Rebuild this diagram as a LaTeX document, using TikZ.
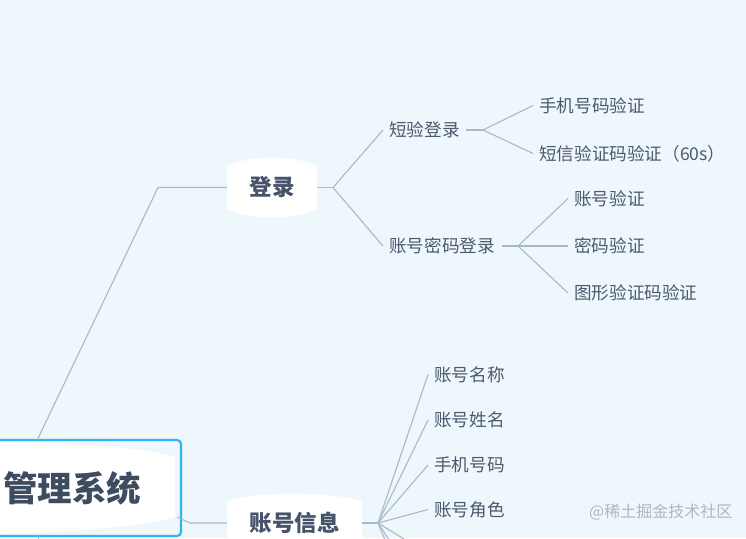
\documentclass[tikz,border=0pt]{standalone}
\usepackage{fontspec}
\setmainfont{Noto Sans CJK SC}
\definecolor{bg}{HTML}{EEF7FB}
\definecolor{linec}{HTML}{AAB8C8}
\definecolor{txt}{HTML}{4D596D}
\definecolor{maintxt}{HTML}{46536A}
\definecolor{roottxt}{HTML}{3E4B60}
\definecolor{rootb}{HTML}{33B4F2}
\definecolor{wm}{HTML}{B2B6BA}
\begin{document}
\begin{tikzpicture}[x=1pt,y=-1pt,
  conn/.style={draw=linec, line width=1.1pt},
  leaf/.style={anchor=west, inner xsep=6pt, inner ysep=0pt, text=txt, font=\fontsize{17.6}{17.6}\selectfont},
  mainnode/.style={inner sep=0pt, text=maintxt, font=\bfseries\fontsize{22.5}{22.5}\selectfont},
]
\useasboundingbox (0,0) rectangle (746,538);
\fill[bg] (0,0) rectangle (746,538);
\begin{scope}
\clip (0,0) rectangle (746,538);
% root
\draw[draw=rootb, line width=2.2pt, fill=bg, rounded corners=4pt] (-20,440) rectangle (181,536);
\fill[white] (-80,441.5) .. controls (60,441.5) and (140,446) .. (175,457) -- (175,517) .. controls (140,528) and (60,534.5) .. (-80,534.5) -- cycle;
\node[anchor=west, inner sep=0pt, text=roottxt, font=\bfseries\fontsize{34.5}{34.5}\selectfont] (root) at (3,488) {管理系统};
\coordinate (rootT) at (37,440.5);
\coordinate (rootR) at (177,517);
\coordinate (rootB) at (37,535);
% main node shapes
\fill[white] (231,164) .. controls (255,155.5) and (289,155.5) .. (313,164) .. controls (317,165.5) .. (317,170) -- (317,205) .. controls (317,209.5) .. (313,211) .. controls (289,219.5) and (255,219.5) .. (231,211) .. controls (227,209.5) .. (227,205) -- (227,170) .. controls (227,165.5) .. cycle;
\node[mainnode, minimum width=90pt, minimum height=55pt] (login) at (272,187.5) {登录};
\fill[white] (231,500) .. controls (265,491.5) and (324,491.5) .. (358,500) .. controls (362,501.5) .. (362,506) -- (362,560) -- (227,560) -- (227,506) .. controls (227,501.5) .. cycle;
\node[mainnode, minimum width=135pt, minimum height=40pt] (acct) at (294.5,523) {账号信息};
% root connectors
\coordinate (elbow1) at (158,187.5);
\coordinate (elbow2) at (190,523);
\coordinate (below1) at (48,560);
\draw[conn] (rootT) -- (elbow1) -- (login.west);
\draw[conn] (rootR) -- (elbow2) -- (acct.west);
\draw[conn] (rootB) -- (below1);
% login subtree
\node[leaf] (dy) at (383,130) {短验登录};
\node[leaf] (zm) at (383,246) {账号密码登录};
\coordinate (lb) at (333,187.5);
\draw[conn] (login.east) -- (lb);
\draw[conn] (lb) -- (dy.west);
\draw[conn] (lb) -- (zm.west);
\coordinate (dyb) at (483,130);
\coordinate (dystart) at (466,130);
\node[leaf] (sj) at (533,105.5) {手机号码验证};
\node[leaf] (dx) at (533,153.5) {短信验证码验证（60s）};
\draw[conn] (dystart) -- (dyb);
\draw[conn] (dyb) -- (sj.west);
\draw[conn] (dyb) -- (dx.west);
\coordinate (zmb) at (518,246);
\node[leaf] (zy) at (568,198.5) {账号验证};
\node[leaf] (my) at (568,246) {密码验证};
\node[leaf] (tx) at (568,293) {图形验证码验证};
\coordinate (zmstart) at (502,246);
\draw[conn] (zmstart) -- (zmb);
\draw[conn] (zmb) -- (zy.west);
\draw[conn] (zmb) -- (my.west);
\draw[conn] (zmb) -- (tx.west);
% account subtree
\coordinate (ab) at (378,523);
\draw[conn] (acct.east) -- (ab);
\node[leaf] (mc) at (428,374.5) {账号名称};
\node[leaf] (xm) at (428,420) {账号姓名};
\node[leaf] (sj2) at (428,465) {手机号码};
\node[leaf] (js) at (428,509.5) {账号角色};
\coordinate (off1) at (428,554);
\coordinate (off2) at (428,599);
\coordinate (off3) at (428,644);
\foreach \t in {mc,xm,sj2,js} \draw[conn] (ab) -- (\t.west);
\foreach \t in {off1,off2,off3} \draw[conn] (ab) -- (\t);
\end{scope}
\node[anchor=west, text=wm, font=\fontsize{16}{16}\selectfont, inner sep=0pt] (wmk) at (589,512) {@稀土掘金技术社区};
\end{tikzpicture}
\end{document}
